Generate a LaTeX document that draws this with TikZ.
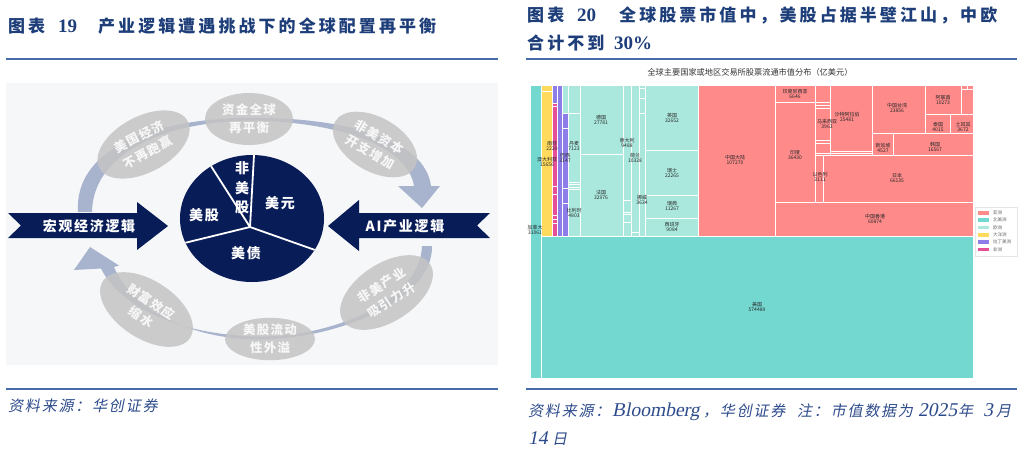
\documentclass[tikz,border=0pt]{standalone}
\usepackage{fontspec}
\setmainfont{Liberation Serif}
\newfontfamily\cjk{Noto Sans CJK SC}
\newfontfamily\cjksl[FakeSlant=0.2]{Noto Sans CJK SC}
\newfontfamily\serifsl[FakeSlant=0.2]{Liberation Serif}
\usetikzlibrary{shapes.geometric}
\definecolor{ttl}{RGB}{30,62,122}
\definecolor{rulec}{RGB}{70,108,168}
\definecolor{srcc}{RGB}{45,75,140}
\definecolor{navy}{RGB}{8,28,88}
\definecolor{arcc}{RGB}{168,180,205}
\definecolor{ellc}{RGB}{196,196,196}
\definecolor{bgc}{RGB}{246,247,249}
\definecolor{asia}{RGB}{255,138,138}
\definecolor{nam}{RGB}{115,216,208}
\definecolor{eur}{RGB}{170,232,221}
\definecolor{oce}{RGB}{255,218,92}
\definecolor{lat}{RGB}{140,125,232}
\definecolor{afr}{RGB}{230,80,150}
\newcommand\tmr[5]{\path[fill=#5,draw=white,line width=0.8pt] (#1,#2) rectangle (#3,#4);}
\tikzset{
  ttlcjk/.style={anchor=base west,inner sep=0,text=ttl,font=\cjk\bfseries\fontsize{17}{20}\selectfont\addfontfeature{LetterSpace=18}},
  ttlnum/.style={anchor=base west,inner sep=0,text=ttl,font=\bfseries\fontsize{19}{20}\selectfont},
  srccjk/.style={anchor=base west,inner sep=0,text=srcc,font=\cjksl\fontsize{15}{18}\selectfont\addfontfeature{LetterSpace=12}},
  srclat/.style={anchor=base west,inner sep=0,text=srcc,font=\serifsl\fontsize{19.5}{20}\selectfont},
  bantext/.style={inner sep=0,text=white,font=\cjk\bfseries\fontsize{14}{16}\selectfont\addfontfeature{LetterSpace=12}},
  pietext/.style={inner sep=0,text=white,align=center,font=\cjk\bfseries\fontsize{14}{19.5}\selectfont\addfontfeature{LetterSpace=12}},
  ell/.style={ellipse,inner sep=0,fill=ellc,fill opacity=0.85,text opacity=1,text=white!94!gray,align=center,font=\cjk\bfseries\fontsize{12.5}{18}\selectfont\addfontfeature{LetterSpace=10}},
  tml/.style={inner sep=0,align=center,text=black!85,font=\cjk\fontsize{5}{5.6}\selectfont},
  leg/.style={anchor=west,inner sep=0,text=black!60,font=\cjk\fontsize{4.5}{5}\selectfont}
}
\begin{document}
\begin{tikzpicture}[x=1pt,y=-1pt]
\useasboundingbox (0,0) rectangle (1024,451);
\fill[white] (0,0) rectangle (1024,451);
% ---------------- left panel ----------------
\node[ttlcjk] (t19a) at (8,32) {图表};
\node[ttlnum] (t19b) at (58,32) {19};
\node[ttlcjk] (t19c) at (98,32) {产业逻辑遭遇挑战下的全球配置再平衡};
\draw[rulec,line width=2pt] (6,58.5) -- (498,58.5);
\fill[bgc] (6,83) rectangle (498,365);
% upper arc
\fill[arcc] (78,212) .. controls (74,150) and (150,119) .. (250,117.5) .. controls (350,118) and (425,140) .. (431,186)
  -- (440,186) -- (422,208) -- (398,186) -- (414,186)
  .. controls (408,148) and (345,122) .. (250,120.5) .. controls (160,122) and (93,155) .. (92,212) -- cycle;
% lower arc
\fill[arcc] (432,246) .. controls (433,300) and (340,338) .. (262,339.5) .. controls (185,340) and (130,305) .. (114,267)
  -- (119,265.5) -- (90,247) -- (74,270) -- (101,268.5)
  .. controls (122,310) and (185,336) .. (262,336.5) .. controls (335,336) and (420,300) .. (422,246) -- cycle;
% banners
\fill[navy] (8,213) -- (137,213) -- (137,202) -- (168,226) -- (137,250) -- (137,238) -- (8,238) -- (21,225.5) -- cycle;
\node[bantext] (macro) at (89,226) {宏观经济逻辑};
\fill[navy] (328,226) -- (359,200) -- (359,213) -- (490,213) -- (477,225.5) -- (490,238) -- (359,238) -- (359,251) -- cycle;
\node[bantext] (ai) at (405,226) {AI产业逻辑};
% pie
\fill[navy] (252,218.5) ellipse [x radius=72, y radius=63.5];
\begin{scope}
\clip (252,218.5) ellipse [x radius=72, y radius=63.5];
\draw[white,line width=1.8pt] (250,227) -- (255,137) (250,227) -- (202,152) (250,227) -- (168,247) (250,227) -- (332,256);
\end{scope}
\node[pietext] (nus) at (242,188) {非\\美\\股};
\node[pietext] (us) at (204,215) {美股};
\node[pietext] (usd) at (280,203) {美元};
\node[pietext] (ust) at (246,253) {美债};
% ellipses
\node[ell,minimum width=100,minimum height=56,rotate=28] (e1) at (143.5,144.5) {美国经济\\不再跑赢};
\node[ell,minimum width=88,minimum height=52] (e2) at (249,119) {资金全球\\再平衡};
\node[ell,minimum width=92,minimum height=54,rotate=-30] (e3) at (375,144.5) {非美资本\\开支增加};
\node[ell,minimum width=104,minimum height=58,rotate=-33] (e4) at (146.5,309.5) {财富效应\\缩水};
\node[ell,minimum width=90,minimum height=42] (e5) at (270,339) {美股流动\\性外溢};
\node[ell,minimum width=104,minimum height=58,rotate=33] (e6) at (386.5,292.5) {非美产业\\吸引力升};
\draw[rulec,line width=2pt] (6,389.3) -- (498,389.3);
\node[srccjk] (src1) at (8,411) {资料来源：华创证券};
% ---------------- right panel ----------------
\node[ttlcjk] (t20a) at (527,21) {图表};
\node[ttlnum] (t20b) at (577,21) {20};
\node[ttlcjk] (t20c) at (619,21) {全球股票市值中，美股占据半壁江山，中欧};
\node[ttlcjk] (t20d) at (527,49) {合计不到};
\node[ttlnum] (t20e) at (614,49) {30\%};
\draw[rulec,line width=2pt] (526,58.5) -- (1017,58.5);
\node[inner sep=0,text=black!80,font=\cjk\fontsize{8.2}{9}\selectfont] (ctitle) at (750,72) {全球主要国家或地区交易所股票流通市值分布（亿美元）};
% North America
\tmr{530}{85}{541.5}{378}{nam}
\tmr{541.5}{236}{973}{378}{nam}
% Oceania
\tmr{541.5}{85}{552.5}{91}{oce}
\tmr{541.5}{91}{552.5}{236}{oce}
% Africa / Latin America
\tmr{552.5}{85}{557.5}{103}{lat}
\tmr{552.5}{103}{557.5}{106}{afr}
\tmr{552.5}{106}{557.5}{186}{afr}
\tmr{552.5}{186}{557.5}{194}{afr}
\tmr{552.5}{194}{557.5}{215}{afr}
\tmr{552.5}{215}{557.5}{219}{afr}
\tmr{552.5}{219}{557.5}{223}{afr}
\tmr{552.5}{223}{557.5}{236}{afr}
\tmr{557.5}{85}{562.5}{236}{lat}
\tmr{562.5}{85}{568.5}{113}{eur}
\tmr{562.5}{113}{568.5}{128}{lat}
\tmr{562.5}{128}{568.5}{188}{lat}
\tmr{562.5}{188}{568.5}{203}{lat}
\tmr{562.5}{203}{568.5}{236}{lat}
% Europe
\tmr{568.5}{85}{580.5}{113}{eur}
\tmr{568.5}{113}{580.5}{182}{eur}
\tmr{568.5}{182}{580.5}{184.5}{eur}
\tmr{568.5}{184.5}{580.5}{187}{eur}
\tmr{568.5}{187}{580.5}{189.5}{eur}
\tmr{568.5}{189.5}{580.5}{236}{eur}
\tmr{580.5}{85}{623}{154}{eur}
\tmr{580.5}{154}{623}{236}{eur}
\tmr{623}{85}{631.5}{200}{eur}
\tmr{623}{200}{631.5}{212}{eur}
\tmr{623}{212}{631.5}{214}{eur}
\tmr{623}{214}{631.5}{222}{eur}
\tmr{623}{222}{631.5}{236}{eur}
\tmr{631.5}{85}{639.5}{232}{eur}
\tmr{631.5}{232}{639.5}{236}{eur}
\tmr{639.5}{85}{645}{88}{eur}
\tmr{639.5}{88}{645}{98}{eur}
\tmr{639.5}{98}{645}{113}{eur}
\tmr{639.5}{113}{645}{236}{eur}
\tmr{645}{85}{698}{150}{eur}
\tmr{645}{150}{698}{195}{eur}
\tmr{645}{195}{698}{218}{eur}
\tmr{645}{218}{698}{236}{eur}
% Asia
\tmr{698}{85}{775}{236}{asia}
\tmr{775}{85}{815.5}{102.5}{asia}
\tmr{775}{102.5}{815.5}{202.5}{asia}
\tmr{815.5}{85}{830.5}{102.5}{asia}
\tmr{815.5}{102.5}{830.5}{105}{asia}
\tmr{815.5}{105}{830.5}{108.5}{asia}
\tmr{815.5}{108.5}{830.5}{140.5}{asia}
\tmr{815.5}{140.5}{830.5}{143.5}{asia}
\tmr{815.5}{143.5}{830.5}{153.5}{asia}
\tmr{815.5}{153.5}{830.5}{155.5}{asia}
\tmr{815.5}{155.5}{823}{202.5}{asia}
\tmr{830.5}{85}{872}{151}{asia}
\tmr{830.5}{151}{872}{153.5}{asia}
\tmr{830.5}{153.5}{872}{155.5}{asia}
\tmr{823}{155.5}{973}{202.5}{asia}
\tmr{872}{85}{925}{133.5}{asia}
\tmr{872}{133.5}{893.5}{155.5}{asia}
\tmr{893.5}{133.5}{973}{155.5}{asia}
\tmr{925}{85}{961.5}{114.5}{asia}
\tmr{961.5}{85}{967}{89}{asia}
\tmr{967}{85}{973}{89}{asia}
\tmr{961.5}{89}{973}{114.5}{asia}
\tmr{925}{114.5}{950.5}{133.5}{asia}
\tmr{950.5}{114.5}{973}{133.5}{asia}
\tmr{775}{202.5}{973}{236}{asia}
% labels
\node[tml] (l-ca) at (535,230) {加拿大\\31061};
\node[tml] (l-us) at (757,307) {美国\\574489};
\node[tml] (l-au) at (547,162) {澳大利亚\\15656};
\node[tml] (l-za) at (552,146) {南非\\2229};
\node[tml] (l-br) at (565,158) {巴西\\3147};
\node[tml] (l-dk) at (574,146) {丹麦\\7123};
\node[tml] (l-be) at (574,213) {比利时\\4803};
\node[tml] (l-de) at (601,120) {德国\\27781};
\node[tml] (l-fr) at (601,195) {法国\\32976};
\node[tml] (l-it) at (627,143) {意大利\\9488};
\node[tml] (l-nl) at (635,158) {荷兰\\10328};
\node[tml] (l-no) at (642,200) {挪威\\3634};
\node[tml] (l-gb) at (672,118) {英国\\32652};
\node[tml] (l-ch) at (672,173) {瑞士\\22265};
\node[tml] (l-se) at (672,206) {瑞典\\11267};
\node[tml] (l-es) at (672,227) {西班牙\\9084};
\node[tml] (l-cn) at (735,160) {中国大陆\\107270};
\node[tml] (l-id) at (795,94) {印度尼西亚\\6646};
\node[tml] (l-in) at (795,155) {印度\\36430};
\node[tml] (l-my) at (827,124) {马来西亚\\3963};
\node[tml] (l-il) at (820,177) {以色列\\3111};
\node[tml] (l-sa) at (847,117) {沙特阿拉伯\\25481};
\node[tml] (l-tw) at (897,108) {中国台湾\\23856};
\node[tml] (l-ae) at (943,100) {阿联酋\\10273};
\node[tml] (l-th) at (938,127) {泰国\\4015};
\node[tml] (l-tr) at (963,127) {土耳其\\3672};
\node[tml] (l-sg) at (883,148) {新加坡\\4527};
\node[tml] (l-kr) at (935,147) {韩国\\16567};
\node[tml] (l-jp) at (897,178) {日本\\66135};
\node[tml] (l-hk) at (875,219) {中国香港\\60874};
% legend
\draw[black!10,fill=white,line width=0.5pt] (975,207) rectangle (1017,256);
\fill[asia] (978,211) rectangle (989,214.5); \node[leg] (g1) at (993,212.7) {亚洲};
\fill[nam] (978,218.3) rectangle (989,221.8); \node[leg] (g2) at (993,220) {北美洲};
\fill[eur] (978,225.6) rectangle (989,229.1); \node[leg] (g3) at (993,227.3) {欧洲};
\fill[oce] (978,233) rectangle (989,236.5); \node[leg] (g4) at (993,234.7) {大洋洲};
\fill[lat] (978,240.3) rectangle (989,243.8); \node[leg] (g5) at (993,242) {拉丁美洲};
\fill[afr] (978,247.6) rectangle (989,251.1); \node[leg] (g6) at (993,249.4) {非洲};
% sources
\draw[rulec,line width=2pt] (526,389.3) -- (1017,389.3);
\node[srccjk] (s2a) at (528,416) {资料来源：};
\node[srclat] (s2b) at (612,416) {Bloomberg};
\node[srccjk] (s2c) at (703,416) {，华创证券};
\node[srccjk] (s2d) at (797,416) {注：市值数据为};
\node[srclat] (s2e) at (918,416) {2025};
\node[srccjk] (s2f) at (958,416) {年};
\node[srclat] (s2g) at (983,416) {3};
\node[srccjk] (s2h) at (996,416) {月};
\node[srclat] (s2i) at (528,444) {14};
\node[srccjk] (s2j) at (552,444) {日};
\end{tikzpicture}
\end{document}
